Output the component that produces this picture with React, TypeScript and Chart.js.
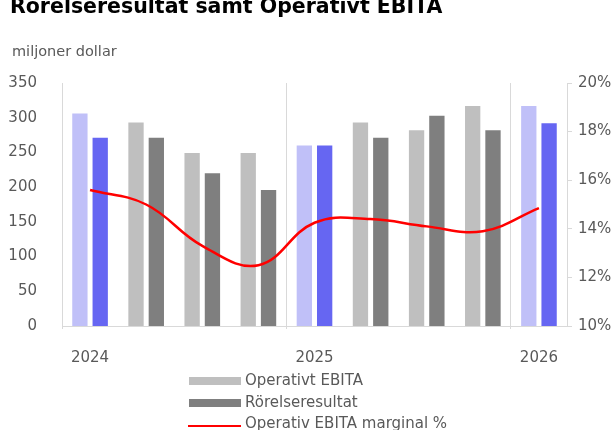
import React, { useEffect, useRef } from "react";
import { Chart, registerables } from "chart.js";

Chart.register(...registerables);

const title = "Rörelseresultat samt Operativt EBITA";
const unitLabel = "miljoner dollar";

const quarters = [
  "Q1 2024", "Q2 2024", "Q3 2024", "Q4 2024",
  "Q1 2025", "Q2 2025", "Q3 2025", "Q4 2025",
  "Q1 2026",
];

const operativtEbita = [306, 293, 249, 249, 260, 293, 282, 317, 317];
const rorelseresultat = [271, 271, 220, 196, 260, 271, 303, 282, 292];
const ebitaMarginal = [15.6, 15.0, 13.3, 12.5, 14.25, 14.4, 14.1, 13.9, 14.85];

const seriesNames = ["Operativt EBITA", "Rörelseresultat", "Operativ EBITA marginal %"];

const FONT = "'DejaVu Sans', sans-serif";
const TEXT = "#595959";
const AXIS = "#d9d9d9";
const LIGHT_GRAY = "#bfbfbf";
const DARK_GRAY = "#7f7f7f";
const LIGHT_PURPLE = "#c0c0f8";
const DARK_PURPLE = "#6666f2";
const RED = "#ff0000";

const isQ1 = (i: number) => quarters[i] !== undefined && quarters[i].startsWith("Q1");
const yearLabels = quarters.map((q) => (q.startsWith("Q1") ? q.split(" ")[1] : ""));

export default function App() {
  const ref = useRef<HTMLCanvasElement | null>(null);

  useEffect(() => {
    if (!ref.current) return;
    const chart = new Chart(ref.current, {
      type: "bar",
      data: {
        labels: yearLabels,
        datasets: [
          {
            type: "line",
            label: seriesNames[2],
            data: ebitaMarginal,
            yAxisID: "y2",
            borderColor: RED,
            borderWidth: 2.5,
            pointRadius: 0,
            tension: 0.4,
            order: 0,
          } as any,
          {
            label: seriesNames[0],
            data: operativtEbita,
            yAxisID: "y",
            backgroundColor: (ctx: any) => (isQ1(ctx.dataIndex) ? LIGHT_PURPLE : LIGHT_GRAY),
            categoryPercentage: 0.724,
            barPercentage: 0.754,
            order: 1,
          },
          {
            label: seriesNames[1],
            data: rorelseresultat,
            yAxisID: "y",
            backgroundColor: (ctx: any) => (isQ1(ctx.dataIndex) ? DARK_PURPLE : DARK_GRAY),
            categoryPercentage: 0.724,
            barPercentage: 0.754,
            order: 1,
          },
        ],
      },
      options: {
        animation: false,
        responsive: false,
        maintainAspectRatio: false,
        layout: { padding: { top: 83, left: 0, right: 0, bottom: 0 } },
        plugins: {
          legend: { display: false },
          tooltip: { enabled: false },
          title: { display: false },
        },
        scales: {
          x: {
            offset: true,
            afterFit: (s: any) => {
              s.height = 104;
            },
            grid: {
              display: true,
              offset: true,
              drawOnChartArea: true,
              drawTicks: true,
              tickLength: 3,
              color: (ctx: any) =>
                typeof ctx.index === "number" && ctx.index % 4 === 0 ? AXIS : "rgba(0,0,0,0)",
              lineWidth: 1,
            },
            border: { display: true, color: AXIS },
            ticks: {
              autoSkip: false,
              maxRotation: 0,
              minRotation: 0,
              padding: 20,
              color: TEXT,
              font: { family: FONT, size: 15 },
            },
          },
          y: {
            position: "left",
            min: 0,
            max: 350,
            afterFit: (s: any) => {
              s.width = 62;
            },
            grid: { display: false },
            border: { display: true, color: AXIS },
            ticks: {
              stepSize: 50,
              padding: 17,
              color: TEXT,
              font: { family: FONT, size: 15 },
            },
          },
          y2: {
            position: "right",
            min: 10,
            max: 20,
            afterFit: (s: any) => {
              s.width = 44;
            },
            grid: {
              display: true,
              drawOnChartArea: false,
              drawTicks: true,
              tickLength: 5,
              color: AXIS,
            },
            border: { display: true, color: AXIS },
            ticks: {
              stepSize: 2,
              padding: 6,
              color: TEXT,
              font: { family: FONT, size: 15 },
              callback: (v: any) => `${v}%`,
            },
          },
        },
      },
    });
    return () => chart.destroy();
  }, []);

  const legendRow = (top: number, kind: "box" | "line", color: string, text: string) => (
    <div key={text} style={{ position: "absolute", left: 0, top: 0 }}>
      {kind === "box" ? (
        <div
          style={{
            position: "absolute",
            left: 189,
            top: top + 4,
            width: 52,
            height: 8,
            background: color,
          }}
        />
      ) : (
        <div
          style={{
            position: "absolute",
            left: 188,
            top: top + 8.5,
            width: 53,
            height: 2,
            background: color,
          }}
        />
      )}
      <div
        style={{
          position: "absolute",
          left: 245,
          top: top,
          fontFamily: FONT,
          fontSize: 15,
          lineHeight: "15px",
          color: TEXT,
          whiteSpace: "nowrap",
        }}
      >
        {text}
      </div>
    </div>
  );

  return (
    <div
      style={{
        position: "fixed",
        left: 0,
        top: 0,
        width: 611,
        height: 430,
        overflow: "hidden",
        background: "#ffffff",
      }}
    >
      <canvas ref={ref} width={611} height={430} style={{ position: "absolute", left: 0, top: 0 }} />
      <div
        style={{
          position: "absolute",
          left: 10,
          top: -3.6,
          fontFamily: FONT,
          fontWeight: 700,
          fontSize: 20.5,
          lineHeight: "20.5px",
          color: "#000000",
          whiteSpace: "nowrap",
        }}
      >
        {title}
      </div>
      <div
        style={{
          position: "absolute",
          left: 12,
          top: 44.4,
          fontFamily: FONT,
          fontSize: 14.5,
          lineHeight: "14.5px",
          color: TEXT,
          whiteSpace: "nowrap",
        }}
      >
        {unitLabel}
      </div>
      {legendRow(373.3, "box", LIGHT_GRAY, seriesNames[0])}
      {legendRow(395, "box", DARK_GRAY, seriesNames[1])}
      {legendRow(416.3, "line", RED, seriesNames[2])}
    </div>
  );
}
